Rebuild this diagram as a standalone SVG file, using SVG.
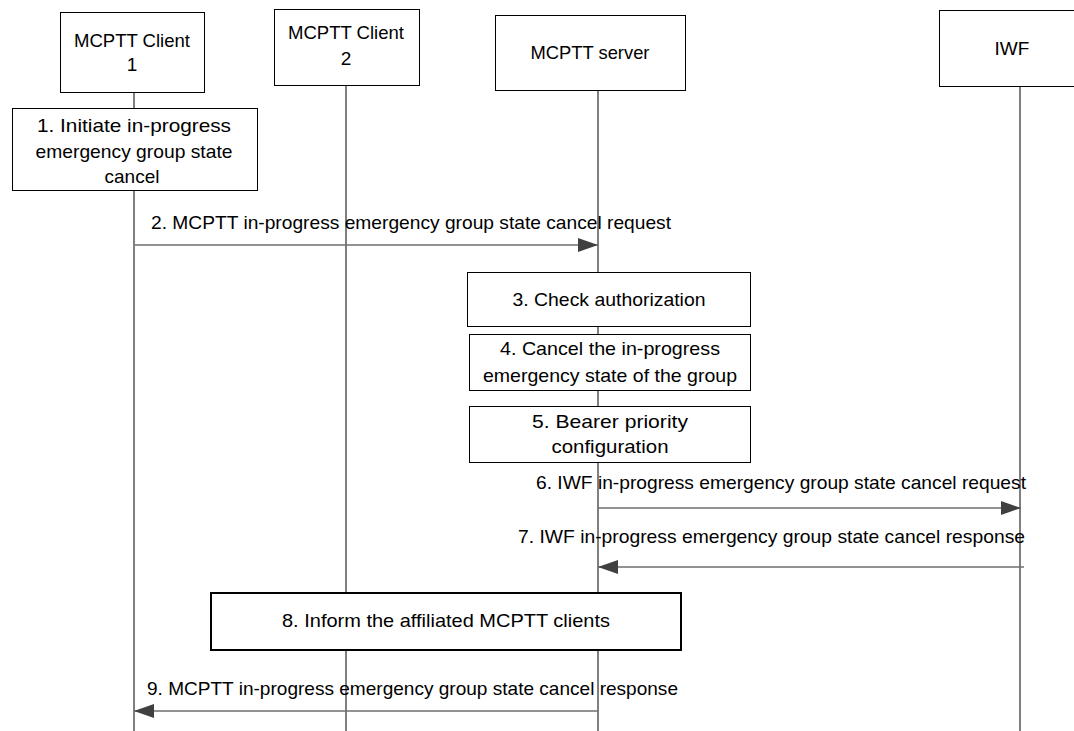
<svg xmlns="http://www.w3.org/2000/svg" width="1074" height="731" viewBox="0 0 1074 731">
<defs>
<style>
text{font-family:"Liberation Sans",Arial,sans-serif;font-size:19px;fill:#000}
.c{text-anchor:middle}
.box{fill:#fff;stroke:#000;stroke-width:1}
.bold{fill:#fff;stroke:#000;stroke-width:2}
.life{stroke:#000;stroke-width:1;fill:none}
.msg{stroke:#6e6e6e;stroke-width:1.3;fill:none;marker-end:url(#ah)}
</style>
<marker id="ah" markerUnits="userSpaceOnUse" markerWidth="22" markerHeight="16" refX="20" refY="7" orient="auto">
<path d="M0,0 L20,7 L0,14 Z" fill="#404040"/>
</marker>
</defs>
<rect width="1074" height="731" fill="#fff"/>
<g id="lifelines">
<line class="life" x1="134" y1="92" x2="134" y2="731"/>
<line class="life" x1="346" y1="85" x2="346" y2="731"/>
<line class="life" x1="598" y1="90" x2="598" y2="731"/>
<line class="life" x1="1020" y1="86" x2="1020" y2="731"/>
</g>
<g id="client1">
<rect class="box" x="60.5" y="12.5" width="144" height="80"/>
<text class="c" x="132" y="47" textLength="116" lengthAdjust="spacingAndGlyphs">MCPTT Client</text>
<text class="c" x="132" y="71">1</text>
</g>
<g id="client2">
<rect class="box" x="274.5" y="9.5" width="145" height="76"/>
<text class="c" x="346" y="39" textLength="116" lengthAdjust="spacingAndGlyphs">MCPTT Client</text>
<text class="c" x="346" y="65">2</text>
</g>
<g id="server">
<rect class="box" x="495.5" y="15.5" width="190" height="75"/>
<text class="c" x="590" y="59" textLength="119" lengthAdjust="spacingAndGlyphs">MCPTT server</text>
</g>
<g id="iwf">
<rect class="box" x="939.5" y="10.5" width="146" height="76"/>
<text class="c" x="1012" y="55">IWF</text>
</g>
<g id="step1">
<rect class="box" x="12.5" y="108.5" width="245" height="82"/>
<text class="c" x="134" y="132" textLength="194" lengthAdjust="spacingAndGlyphs">1. Initiate in-progress</text>
<text class="c" x="134" y="158" textLength="197" lengthAdjust="spacingAndGlyphs">emergency group state</text>
<text class="c" x="132" y="183">cancel</text>
</g>
<g id="step3">
<rect class="box" x="467.5" y="272.5" width="283" height="54"/>
<text class="c" x="609" y="306" textLength="193" lengthAdjust="spacingAndGlyphs">3. Check authorization</text>
</g>
<g id="step4">
<rect class="box" x="469.5" y="334.5" width="281" height="56"/>
<text class="c" x="610" y="355" textLength="220" lengthAdjust="spacingAndGlyphs">4. Cancel the in-progress</text>
<text class="c" x="610" y="382" textLength="254" lengthAdjust="spacingAndGlyphs">emergency state of the group</text>
</g>
<g id="step5">
<rect class="box" x="469.5" y="406.5" width="281" height="56"/>
<text class="c" x="610" y="428" textLength="156" lengthAdjust="spacingAndGlyphs">5. Bearer priority</text>
<text class="c" x="610" y="453" textLength="117" lengthAdjust="spacingAndGlyphs">configuration</text>
</g>
<g id="step8">
<rect class="bold" x="211" y="593" width="470" height="57"/>
<text class="c" x="446" y="627" textLength="328" lengthAdjust="spacingAndGlyphs">8.  Inform the affiliated MCPTT clients</text>
</g>
<g id="connectors">
<line class="msg" x1="135" y1="245" x2="598" y2="245"/>
<text x="151" y="229" textLength="520" lengthAdjust="spacingAndGlyphs">2. MCPTT in-progress emergency group state cancel request</text>
<line class="msg" x1="598" y1="508" x2="1021" y2="508"/>
<text x="536" y="489" textLength="490" lengthAdjust="spacingAndGlyphs">6. IWF in-progress emergency group state cancel request</text>
<line class="msg" x1="1024" y1="567" x2="598" y2="567"/>
<text x="518" y="543" textLength="507" lengthAdjust="spacingAndGlyphs">7. IWF in-progress emergency group state cancel response</text>
<line class="msg" x1="598" y1="711" x2="134" y2="711"/>
<text x="147" y="695" textLength="531" lengthAdjust="spacingAndGlyphs">9. MCPTT in-progress emergency group state cancel response</text>
</g>
</svg>
